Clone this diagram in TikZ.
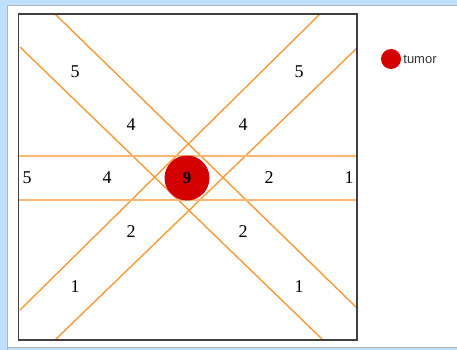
\documentclass[tikz,border=0pt]{standalone}
\usepackage{fontspec}
\setmainfont{Liberation Serif}
\setsansfont{Liberation Sans}
\usetikzlibrary{positioning}
\definecolor{beam}{HTML}{F89A38}
\definecolor{beamlight}{HTML}{FBB874}
\definecolor{tumorred}{HTML}{D40000}
\definecolor{framebg}{HTML}{BEE0FA}

\begin{document}
\begin{tikzpicture}[x=1pt,y=-1pt, every node/.style={align=center,inner sep=0pt}]
\useasboundingbox (0,0) rectangle (457,350);
\fill[framebg] (0,0) rectangle (457,350);
\fill[white] (7,5) rectangle (457,347);
\draw[gray!60,line width=1] (7.5,350) -- (7.5,5.5) -- (457,5.5);
\draw[gray!60,line width=1] (7,347.5) -- (457,347.5);
% beams
\coordinate (a1) at (55,14);  \coordinate (a2) at (357,308);
\coordinate (b1) at (20,47);  \coordinate (b2) at (323,340);
\coordinate (c1) at (320,14); \coordinate (c2) at (20,310);
\coordinate (d1) at (357,48); \coordinate (d2) at (55,340);
\coordinate (h1) at (18,156); \coordinate (h2) at (357,156);
\coordinate (k1) at (18,200); \coordinate (k2) at (357,200);
\draw[beam,line width=1.4] (a1)--(a2);\draw[beam,line width=1.4] (b1)--(b2);
\draw[beam,line width=1.4] (c1)--(c2);\draw[beam,line width=1.4] (d1)--(d2);
\draw[beamlight,line width=1.6] (h1)--(h2);\draw[beamlight,line width=2] (k1)--(k2);
\node[circle,fill=tumorred,minimum size=45] (tumor) at (187,178) {\fontsize{17}{17}\selectfont\bfseries 9};
\draw[black!75,line width=1.5] (18.5,14) rectangle (357,340);
% doses
\node (ul5) at (75,72) {\fontsize{18}{18}\selectfont 5};
\node (ul4) at (131,125) {\fontsize{18}{18}\selectfont 4};
\node (ur5) at (299,72) {\fontsize{18}{18}\selectfont 5};
\node (ur4) at (243,125) {\fontsize{18}{18}\selectfont 4};
\node (ml5) at (27,178) {\fontsize{18}{18}\selectfont 5};
\node (ml4) at (107,178) {\fontsize{18}{18}\selectfont 4};
\node (mr2) at (269,178) {\fontsize{18}{18}\selectfont 2};
\node (mr1) at (349,178) {\fontsize{18}{18}\selectfont 1};
\node (ll2) at (131,232) {\fontsize{18}{18}\selectfont 2};
\node (lr2) at (243,232) {\fontsize{18}{18}\selectfont 2};
\node (ll1) at (75,287) {\fontsize{18}{18}\selectfont 1};
\node (lr1) at (299,287) {\fontsize{18}{18}\selectfont 1};
% legend
\node[circle,fill=tumorred,minimum size=20] (dot) at (391,59) {};
\node[right=2pt of dot,font=\sffamily\fontsize{13}{13}\selectfont,text=black!80] (lbl) {tumor};
\end{tikzpicture}
\end{document}
